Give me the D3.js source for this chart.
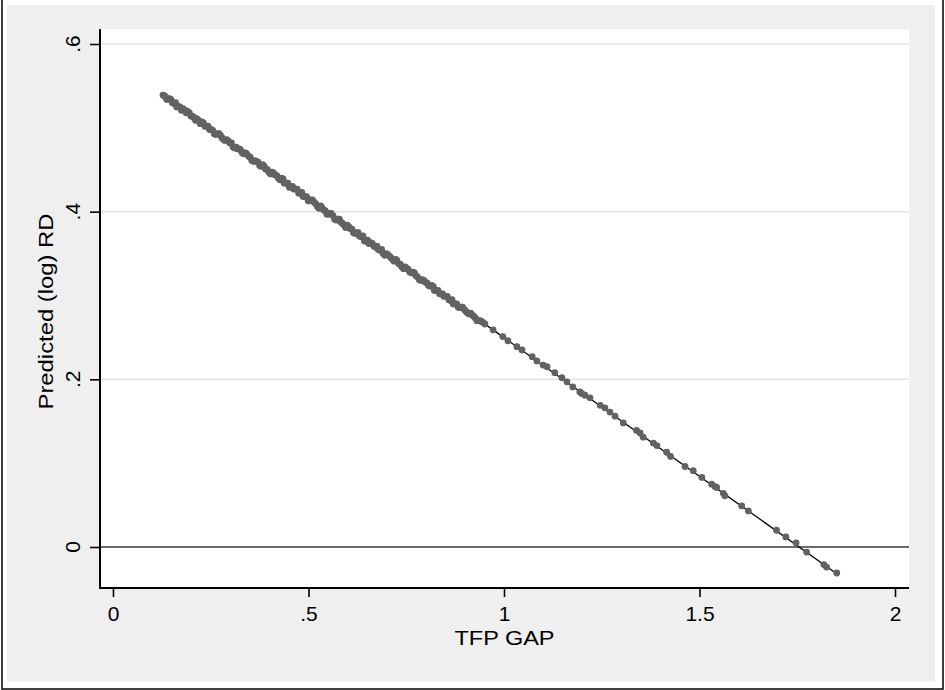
<!DOCTYPE html>
<html>
<head>
<meta charset="utf-8">
<script src="https://cdn.jsdelivr.net/npm/d3@7"></script>
<style>
  html, body { margin: 0; padding: 0; background: #ffffff; }
  svg { display: block; font-family: "Liberation Sans", Arial, Helvetica, sans-serif; }
</style>
</head>
<body>
<svg id="chart" width="945" height="690"></svg>
<script>
// TFP gap (x) and predicted log R&D (y) for each observation
const tfpGap = [
  0.128, 0.137, 0.143, 0.152, 0.160, 0.166, 0.175, 0.183, 0.190, 0.199,
  0.207, 0.214, 0.223, 0.231, 0.238, 0.247, 0.255, 0.262, 0.271, 0.279,
  0.286, 0.295, 0.303, 0.311, 0.318, 0.327, 0.335, 0.342, 0.351, 0.359,
  0.366, 0.375, 0.383, 0.390, 0.399, 0.407, 0.414, 0.423, 0.431, 0.438,
  0.447, 0.455, 0.462, 0.471, 0.479, 0.486, 0.495, 0.503, 0.510, 0.519,
  0.527, 0.534, 0.543, 0.551, 0.558, 0.567, 0.575, 0.582, 0.591, 0.599,
  0.606, 0.615, 0.623, 0.630, 0.639, 0.647, 0.654, 0.663, 0.671, 0.678,
  0.687, 0.695, 0.702, 0.711, 0.719, 0.726, 0.735, 0.743, 0.750, 0.759,
  0.767, 0.774, 0.783, 0.791, 0.798, 0.807, 0.815, 0.822, 0.831, 0.839,
  0.846, 0.855, 0.863, 0.870, 0.879, 0.887, 0.894, 0.903, 0.911, 0.918,
  0.927, 0.935, 0.942, 0.951, 0.972, 0.997, 1.010, 1.033, 1.046, 1.072,
  1.084, 1.100, 1.110, 1.130, 1.148, 1.161, 1.176, 1.194, 1.199, 1.207,
  1.220, 1.246, 1.258, 1.271, 1.284, 1.305, 1.339, 1.348, 1.356, 1.382,
  1.391, 1.416, 1.426, 1.463, 1.484, 1.506, 1.531, 1.540, 1.544, 1.561,
  1.565, 1.608, 1.625, 1.697, 1.721, 1.747, 1.774, 1.818, 1.825, 1.851,
  0.132, 0.140, 0.148, 0.156, 0.163, 0.171, 0.179, 0.187, 0.195, 0.203,
  0.211, 0.219, 0.227, 0.235, 0.243, 0.251, 0.259, 0.267, 0.275, 0.283,
  0.291, 0.299, 0.307, 0.315, 0.323, 0.331, 0.339, 0.347, 0.355, 0.363,
  0.371, 0.379, 0.387, 0.395, 0.403, 0.411, 0.419, 0.427, 0.435, 0.443,
  0.451, 0.459, 0.467, 0.475, 0.483, 0.491, 0.499, 0.507, 0.515, 0.523,
  0.531, 0.539, 0.547, 0.555, 0.563, 0.571, 0.579, 0.587, 0.595, 0.603,
  0.611, 0.619, 0.627, 0.635, 0.643, 0.651, 0.659, 0.667, 0.675, 0.683,
  0.691, 0.699, 0.707, 0.715, 0.723, 0.731, 0.739, 0.747, 0.755, 0.763,
  0.771, 0.779, 0.787, 0.795, 0.803, 0.811, 0.819, 0.827, 0.835, 0.843,
  0.851, 0.859, 0.867, 0.875, 0.883, 0.891, 0.899, 0.907, 0.915, 0.923,
  0.931, 0.939, 0.946
];
const predictedRD = [
  0.539, 0.534, 0.535, 0.530, 0.530, 0.526, 0.521, 0.521, 0.520, 0.514,
  0.512, 0.511, 0.505, 0.506, 0.502, 0.498, 0.497, 0.492, 0.493, 0.488,
  0.485, 0.484, 0.482, 0.476, 0.475, 0.473, 0.469, 0.469, 0.465, 0.460,
  0.460, 0.455, 0.456, 0.451, 0.447, 0.447, 0.444, 0.440, 0.440, 0.434,
  0.434, 0.430, 0.427, 0.427, 0.422, 0.418, 0.418, 0.413, 0.414, 0.409,
  0.404, 0.405, 0.401, 0.397, 0.398, 0.391, 0.391, 0.388, 0.384, 0.384,
  0.380, 0.375, 0.375, 0.371, 0.371, 0.366, 0.362, 0.362, 0.358, 0.355,
  0.355, 0.348, 0.349, 0.345, 0.341, 0.342, 0.337, 0.332, 0.333, 0.328,
  0.328, 0.324, 0.319, 0.319, 0.316, 0.312, 0.312, 0.306, 0.306, 0.302,
  0.299, 0.299, 0.294, 0.290, 0.290, 0.286, 0.286, 0.281, 0.278, 0.277,
  0.273, 0.270, 0.269, 0.266, 0.259, 0.251, 0.246, 0.239, 0.235, 0.227,
  0.222, 0.217, 0.215, 0.208, 0.202, 0.197, 0.191, 0.185, 0.183, 0.181,
  0.178, 0.169, 0.166, 0.161, 0.156, 0.148, 0.139, 0.136, 0.131, 0.124,
  0.121, 0.113, 0.108, 0.096, 0.091, 0.083, 0.075, 0.072, 0.071, 0.064,
  0.061, 0.049, 0.043, 0.020, 0.012, 0.005, -0.006, -0.021, -0.024, -0.031,
  0.538, 0.534, 0.534, 0.529, 0.525, 0.525, 0.523, 0.518, 0.518, 0.514,
  0.509, 0.509, 0.507, 0.502, 0.502, 0.498, 0.493, 0.493, 0.491, 0.486,
  0.486, 0.482, 0.477, 0.477, 0.475, 0.470, 0.470, 0.466, 0.461, 0.461,
  0.459, 0.454, 0.454, 0.450, 0.445, 0.446, 0.443, 0.438, 0.439, 0.434,
  0.429, 0.430, 0.427, 0.422, 0.423, 0.418, 0.413, 0.414, 0.411, 0.406,
  0.407, 0.402, 0.397, 0.398, 0.395, 0.390, 0.391, 0.386, 0.381, 0.382,
  0.379, 0.374, 0.375, 0.370, 0.365, 0.366, 0.363, 0.359, 0.359, 0.354,
  0.350, 0.350, 0.347, 0.343, 0.343, 0.338, 0.334, 0.334, 0.331, 0.327,
  0.327, 0.322, 0.318, 0.318, 0.315, 0.311, 0.311, 0.306, 0.302, 0.302,
  0.299, 0.295, 0.295, 0.290, 0.286, 0.286, 0.283, 0.279, 0.279, 0.275,
  0.270, 0.270, 0.268
];
const xTicks = [0, 0.5, 1, 1.5, 2];
const xTickLabels = ["0", ".5", "1", "1.5", "2"];
const yTicks = [0, 0.2, 0.4, 0.6];
const yTickLabels = ["0", ".2", ".4", ".6"];
const xTitle = "TFP GAP";
const yTitle = "Predicted (log) RD";

const svg = d3.select("#chart");
const W = 945, H = 690;
const plot = { left: 100, right: 909, top: 29, bottom: 588 };
const fontSize = 21;

const x = d3.scaleLinear().domain([0, 2]).range([113, 895]);
const y = d3.scaleLinear().domain([0, 0.6]).range([547, 44]);

// outer frame and graph region
svg.append("rect").attr("x", 0).attr("y", 0).attr("width", W).attr("height", H).attr("fill", "#ffffff");
svg.append("rect").attr("x", 2).attr("y", -3).attr("width", 941).attr("height", 692)
  .attr("fill", "none").attr("stroke", "#000").attr("stroke-width", 1.5);
svg.append("rect").attr("x", 7).attr("y", 5).attr("width", 928).attr("height", 677).attr("fill", "#efefef");
svg.append("rect").attr("x", plot.left).attr("y", plot.top)
  .attr("width", plot.right - plot.left).attr("height", plot.bottom - plot.top).attr("fill", "#ffffff");

// horizontal grid lines
svg.append("g").selectAll("line").data(yTicks.filter(d => d !== 0)).join("line")
  .attr("x1", plot.left).attr("x2", plot.right)
  .attr("y1", d => y(d)).attr("y2", d => y(d))
  .attr("stroke", "#e4e4e4").attr("stroke-width", 1.5);

// reference line at zero
svg.append("line")
  .attr("x1", plot.left).attr("x2", plot.right)
  .attr("y1", y(0)).attr("y2", y(0))
  .attr("stroke", "#3a3a3a").attr("stroke-width", 1.4);

// least-squares fitted line over the range of the data
const n = tfpGap.length;
const mx = d3.mean(tfpGap), my = d3.mean(predictedRD);
let sxy = 0, sxx = 0;
for (let i = 0; i < n; i++) {
  sxy += (tfpGap[i] - mx) * (predictedRD[i] - my);
  sxx += (tfpGap[i] - mx) ** 2;
}
const slope = sxy / sxx, intercept = my - slope * mx;
const [x0, x1] = d3.extent(tfpGap);
svg.append("line")
  .attr("x1", x(x0)).attr("y1", y(intercept + slope * x0))
  .attr("x2", x(x1)).attr("y2", y(intercept + slope * x1))
  .attr("stroke", "#000").attr("stroke-width", 1.3);

// scatter of predicted values, drawn over the fit
svg.append("g").selectAll("circle").data(tfpGap.map((v, i) => [v, predictedRD[i]])).join("circle")
  .attr("cx", d => x(d[0])).attr("cy", d => y(d[1])).attr("r", 3.4)
  .attr("fill", "#626262");

// x axis
const xAxis = svg.append("g").attr("transform", `translate(0,${plot.bottom})`)
  .call(d3.axisBottom(x).tickValues(xTicks).tickSize(9).tickSizeOuter(0)
    .tickFormat((d, i) => xTickLabels[i]).tickPadding(9));
xAxis.select(".domain").remove();
xAxis.selectAll(".tick line").attr("stroke", "#000").attr("stroke-width", 1.6);
xAxis.selectAll(".tick text").attr("font-size", fontSize).attr("fill", "#000")
  .attr("font-family", "Liberation Sans, Arial, sans-serif");
svg.append("line").attr("x1", plot.left - 1).attr("x2", plot.right)
  .attr("y1", plot.bottom).attr("y2", plot.bottom)
  .attr("stroke", "#000").attr("stroke-width", 2);

// y axis with rotated labels
const yAxis = svg.append("g").attr("transform", `translate(${plot.left},0)`)
  .call(d3.axisLeft(y).tickValues(yTicks).tickSize(10).tickSizeOuter(0).tickFormat(""));
yAxis.select(".domain").remove();
yAxis.selectAll(".tick line").attr("stroke", "#000").attr("stroke-width", 1.6);
svg.append("g").selectAll("text").data(yTicks).join("text")
  .attr("transform", d => `translate(80,${y(d)}) rotate(-90)`)
  .attr("text-anchor", "middle").attr("font-size", fontSize).attr("fill", "#000")
  .text((d, i) => yTickLabels[i]);
svg.append("line").attr("x1", plot.left).attr("x2", plot.left)
  .attr("y1", plot.top).attr("y2", plot.bottom + 1)
  .attr("stroke", "#000").attr("stroke-width", 2);

// axis titles
svg.append("text").attr("x", (plot.left + plot.right) / 2).attr("y", 645)
  .attr("text-anchor", "middle").attr("font-size", fontSize).attr("fill", "#000")
  .attr("textLength", 100).attr("lengthAdjust", "spacingAndGlyphs")
  .text(xTitle);
svg.append("text")
  .attr("transform", `translate(53,${(plot.top + plot.bottom) / 2 + 3}) rotate(-90)`)
  .attr("text-anchor", "middle").attr("font-size", fontSize).attr("fill", "#000")
  .attr("textLength", 196).attr("lengthAdjust", "spacingAndGlyphs")
  .text(yTitle);
</script>
</body>
</html>
